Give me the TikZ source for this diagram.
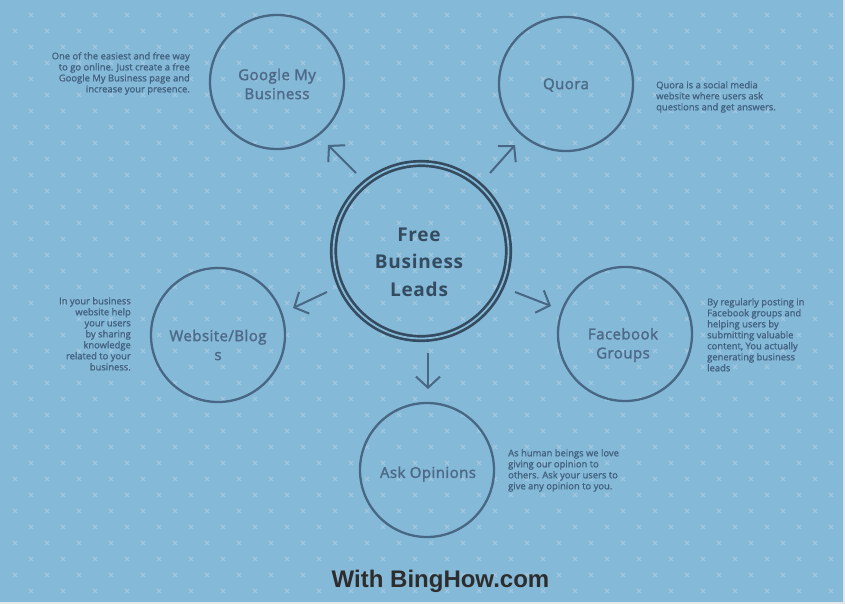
\documentclass[tikz,border=0pt]{standalone}
\usepackage{fontspec}
\setmainfont{Open Sans}
\newfontfamily\descfont{Open Sans}[FakeBold=1.2]
\newfontfamily\lblfont{Open Sans}[FakeBold=1.8,LetterSpace=3]
\newfontfamily\ctrfont{Open Sans}[LetterSpace=4]
\newfontfamily\titlefont{Liberation Sans}
\usetikzlibrary{arrows.meta}
\definecolor{bgblue}{HTML}{85B9D8}
\definecolor{edgegray}{HTML}{E4E6E8}
\definecolor{marklight}{HTML}{9EC6DF}
\definecolor{ringcol}{HTML}{486784}
\definecolor{ctrcol}{HTML}{344B60}
\definecolor{lblcol}{HTML}{4D6987}
\definecolor{desccol}{HTML}{41617F}
\definecolor{titlecol}{HTML}{2D2D2D}
\tikzset{
  xmark/.style={draw=marklight, line width=1.3pt},
  bubble/.style={circle, draw=ringcol, line width=2.3pt, minimum size=134pt, inner sep=0pt},
  centerring/.style={circle, draw=ctrcol, line width=2.7pt, double=bgblue, double distance=1.8pt, minimum size=175pt, inner sep=0pt},
  lbl/.style={text=lblcol, font=\lblfont\fontsize{15}{19}\selectfont, align=center, inner sep=0pt},
  ctrlbl/.style={text=ctrcol, font=\ctrfont\bfseries\fontsize{19}{27.5}\selectfont, align=center, inner sep=0pt},
  descl/.style={text=desccol, font=\descfont\fontsize{9.4}{11}\selectfont, align=left, inner sep=0pt, anchor=north west},
  descr/.style={text=desccol, font=\descfont\fontsize{9.4}{11}\selectfont, align=right, inner sep=0pt, anchor=north east},
  arr/.style={draw=ringcol, line width=2pt, -{Straight Barb[length=11pt,width=24pt]}},
  titletext/.style={text=titlecol, font=\titlefont\bfseries\fontsize{24}{28}\selectfont, inner sep=0pt, anchor=base}
}
\begin{document}
\begin{tikzpicture}[x=1pt,y=-1pt]
\useasboundingbox (0,0) rectangle (845,604);
\fill[edgegray] (0,0) rectangle (845,604);
\fill[bgblue] (0,0) rectangle (843,602);
\begin{scope}
\clip (0,0) rectangle (843,602);
\foreach \m in {0,...,18}{
  \foreach \k in {0,...,26}{
    \draw[xmark] ({31+32*\k},{15+32*\m}) +(-2,-2) -- +(2,2) +(-2,2) -- +(2,-2);
    \draw[xmark] ({15+32*\k},{31+32*\m}) +(-2,-2) -- +(2,2) +(-2,2) -- +(2,-2);
  }
}
\end{scope}

% circles
\node[centerring] (center) at (421,251) {};
\node[bubble] (gmb) at (277,82) {};
\node[bubble] (quora) at (566,84) {};
\node[bubble] (web) at (218,335) {};
\node[bubble] (fb) at (625,334) {};
\node[bubble] (ask) at (427,470) {};

% labels
\node[ctrlbl] (centertext) at (419,262) {Free\\Business\\Leads};
\node[lbl] (gmbtext) at (277,84) {Google My\\Business};
\node[lbl] (quoratext) at (566,85) {Quora};
\node[lbl] (webtext) at (218,345) {Website/Blog\\s};
\node[lbl] (fbtext) at (623,345) {Facebook\\Groups};
\node[lbl] (asktext) at (428,474) {Ask Opinions};

% arrow end points
\coordinate (a1s) at (356,173); \coordinate (a1e) at (328,145);
\coordinate (a2s) at (490,173); \coordinate (a2e) at (515,145);
\coordinate (a3s) at (327,292); \coordinate (a3e) at (293,308);
\coordinate (a4s) at (515,292); \coordinate (a4e) at (551,306);
\coordinate (a5s) at (428,353); \coordinate (a5e) at (428,389);
\draw[arr] (a1s) -- (a1e);
\draw[arr] (a2s) -- (a2e);
\draw[arr] (a3s) -- (a3e);
\draw[arr] (a4s) -- (a4e);
\draw[arr] (a5s) -- (a5e);

% descriptions
\node[descr] (gmbdesc) at (190,52) {One of the easiest and free way\\to go online. Just create a free\\Google My Business page and\\increase your presence.};
\node[descl] (quoradesc) at (656,81) {Quora is a social media\\website where users ask\\questions and get answers.};
\node[descr] (webdesc) at (131,297) {In your business\\website help\\your users\\by sharing\\knowledge\\related to your\\business.};
\node[descl] (fbdesc) at (707,298) {By regularly posting in\\Facebook groups and\\helping users by\\submitting valuable\\content, You actually\\generating business\\leads};
\node[descl] (askdesc) at (508,449) {As human beings we love\\giving our opinion to\\others. Ask your users to\\give any opinion to you.};

% title
\node[titletext] (title) at (440.5,587) {With BingHow.com};
\end{tikzpicture}
\end{document}
